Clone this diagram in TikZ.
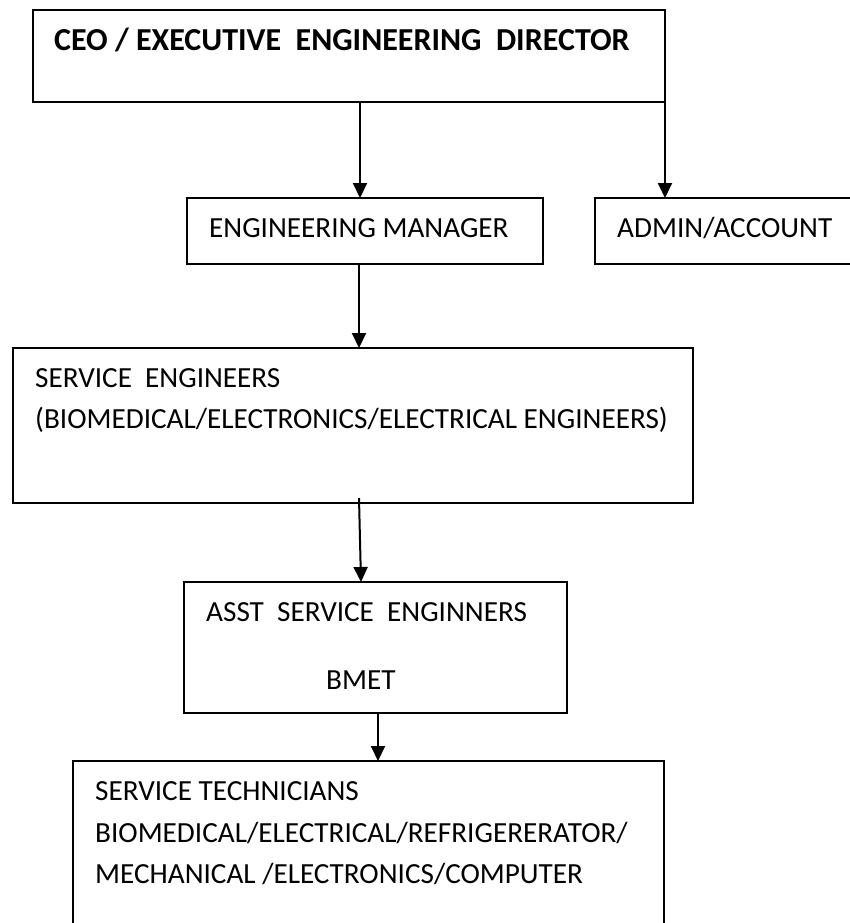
\documentclass[tikz,border=0pt]{standalone}
\usepackage{fontspec}
\setmainfont{Carlito}
\usetikzlibrary{arrows.meta}
\begin{document}
\begin{tikzpicture}[x=1pt,y=-1pt,
  orgbox/.style={draw=black,line width=2pt,rectangle,anchor=north west,inner sep=0pt,outer sep=0pt},
  lbl/.style={anchor=base west,inner sep=0pt,font=\fontsize{29.2}{35}\selectfont},
  boldlbl/.style={anchor=base west,inner sep=0pt,font=\fontsize{32}{38}\selectfont\bfseries},
  arr/.style={line width=2pt,-{Triangle[width=14pt,length=15pt]}}]
\useasboundingbox (0,0) rectangle (849,923);
% boxes
\node[orgbox,minimum width=632pt,minimum height=92pt] (ceo) at (33,10) {};
\node[orgbox,minimum width=356pt,minimum height=66pt] (em) at (187,198) {};
\node[orgbox,minimum width=280pt,minimum height=66pt] (admin) at (595,198) {};
\node[orgbox,minimum width=680pt,minimum height=155pt] (se) at (13,348) {};
\node[orgbox,minimum width=383pt,minimum height=131pt] (ase) at (184,582) {};
\node[orgbox,minimum width=591pt,minimum height=220pt] (st) at (73,761) {};
% texts
\node[boldlbl] (ceoT) at (54,51) {CEO / EXECUTIVE\ \ ENGINEERING\ \ DIRECTOR};
\node[lbl] (emT) at (209,237) {ENGINEERING MANAGER};
\node[lbl] (adminT) at (617,237) {ADMIN/ACCOUNT};
\node[lbl] (seT1) at (35,387) {SERVICE\ \ ENGINEERS};
\node[lbl] (seT2) at (35,428) {(BIOMEDICAL/ELECTRONICS/ELECTRICAL ENGINEERS)};
\node[lbl] (aseT1) at (206,621) {ASST\ \ SERVICE\ \ ENGINNERS};
\node[lbl] (aseT2) at (326,689) {BMET};
\node[lbl] (stT1) at (95,800) {SERVICE TECHNICIANS};
\node[lbl] (stT2) at (95,842) {BIOMEDICAL/ELECTRICAL/REFRIGERERATOR/};
\node[lbl] (stT3) at (95,883) {MECHANICAL /ELECTRONICS/COMPUTER};
% connectors
\draw[arr] ([xshift=327pt]ceo.south west) -- ([xshift=173pt]em.north west);
\draw[arr] (ceo.south east) -- ([xshift=70pt]admin.north west);
\draw[arr] ([xshift=172pt]em.south west) -- ([xshift=346pt]se.north west);
\draw[arr] ([xshift=346pt,yshift=5pt]se.south west) -- ([xshift=177pt]ase.north west);
\draw[arr] ([xshift=194pt]ase.south west) -- ([xshift=305pt]st.north west);
\end{tikzpicture}
\end{document}
